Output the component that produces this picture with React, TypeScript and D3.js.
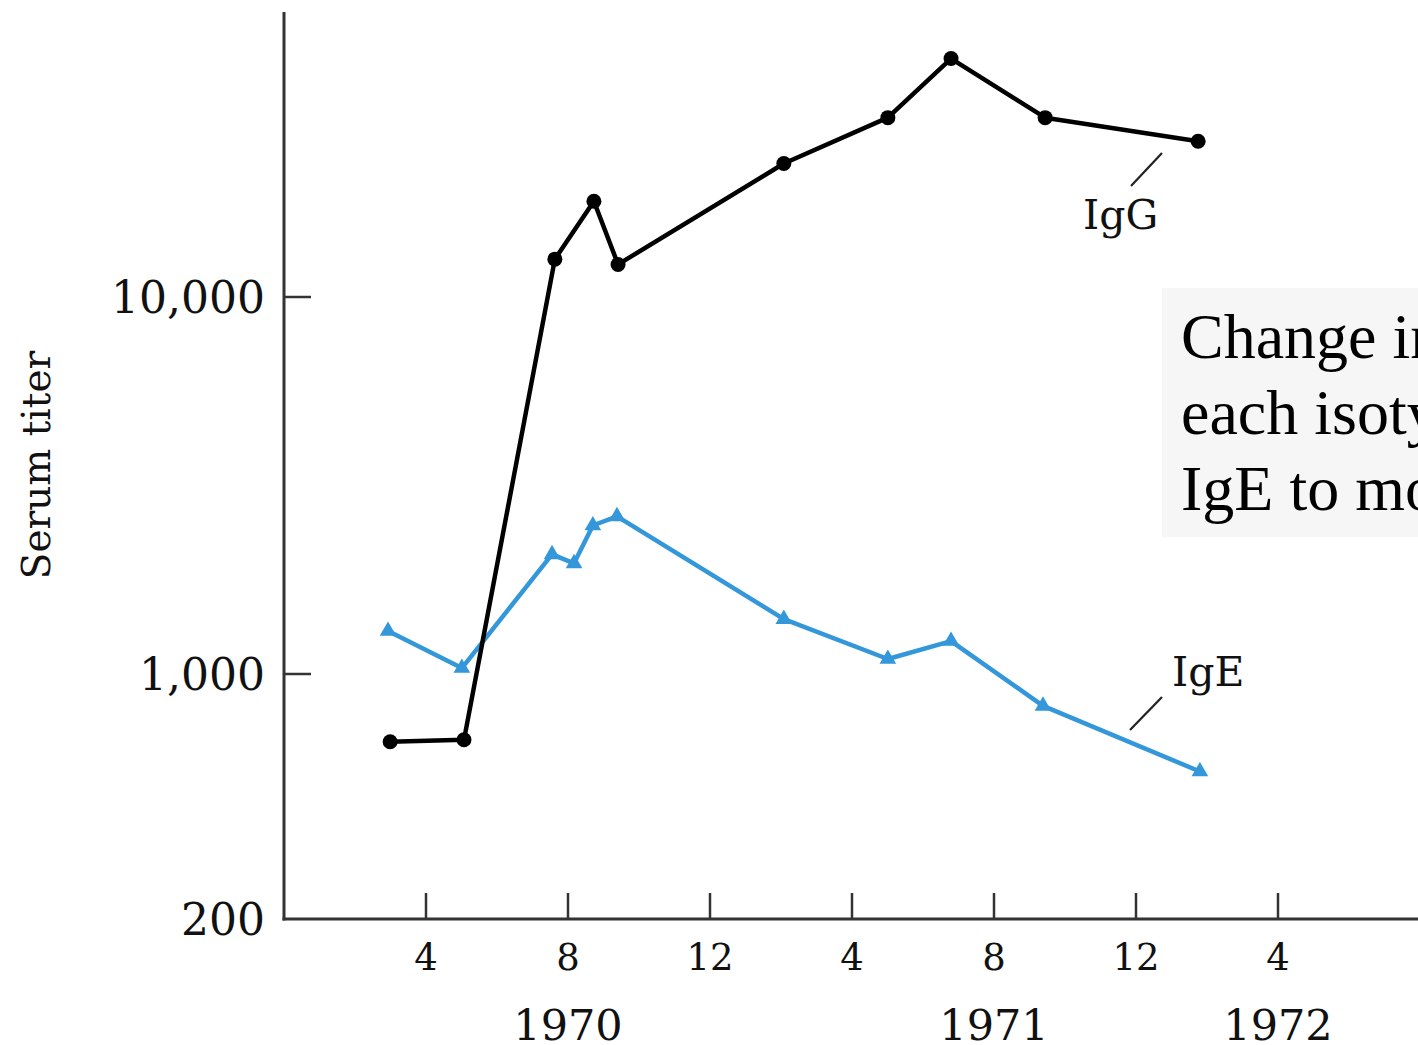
import React from "react";
import * as d3 from "d3";

const W = 1418;
const H = 1045;

// months since start of 1970 (Jan = 0)
const igGMonths = [2.99, 5.07, 7.63, 8.73, 9.41, 14.08, 17.01, 18.79, 21.44, 25.75];
const igGValues = [641, 649, 12600, 17950, 12200, 22600, 29900, 42900, 29900, 25900];

const igEMonths = [2.93, 5.01, 7.55, 8.17, 8.7, 9.38, 14.08, 17.01, 18.79, 21.38, 25.8];
const igEValues = [1300, 1037, 2077, 1966, 2477, 2618, 1398, 1096, 1223, 811, 527];

const xTickMonths = [4, 8, 12, 16, 20, 24, 28];
const xTickLabels = ["4", "8", "12", "4", "8", "12", "4"];
const yearMonths = [8, 20, 28];
const yearLabels = ["1970", "1971", "1972"];

const yTickValues = [200, 1000, 10000];
const yTickLabels = ["200", "1,000", "10,000"];

const noteLines = ["Change in serum titers of", "each isotype, from IgG and", "IgE to more recent samples"];

const AXIS_X = 284;
const AXIS_Y = 919;

export default function App() {
  const x = d3.scaleLinear().domain([0, 32]).range([AXIS_X, AXIS_X + 32 * 35.5]);
  const y = d3.scaleLog().domain([200, 1000, 10000]).range([AXIS_Y, 674, 297]);

  const igG = igGMonths.map((m, i) => [m, igGValues[i]] as [number, number]);
  const igE = igEMonths.map((m, i) => [m, igEValues[i]] as [number, number]);

  const line = d3
    .line<[number, number]>()
    .x((d) => x(d[0]))
    .y((d) => y(d[1]));

  const tri = d3.symbol().type(d3.symbolTriangle).size(120)();

  const blue = "#3397da";
  const tickFont = "DejaVu Serif";

  return (
    <svg
      width={W}
      height={H}
      style={{ position: "absolute", left: 0, top: 0, background: "#fff" }}
    >
      <defs>
        <clipPath id="noteClip">
          <rect x={1162} y={288} width={W - 1162} height={249} />
        </clipPath>
      </defs>
      {/* annotation box */}
      <rect x={1162} y={288} width={W - 1162} height={249} fill="#f6f6f6" />
      <g clipPath="url(#noteClip)">
        {noteLines.map((t, i) => (
          <text
            key={t}
            x={1181}
            y={358 + i * 76}
            fontFamily="'Liberation Serif', 'Times New Roman', serif"
            fontSize={64}
            fill="#000"
          >
            {t}
          </text>
        ))}
      </g>

      {/* axes */}
      <line x1={AXIS_X} x2={AXIS_X} y1={12} y2={AXIS_Y + 1.5} stroke="#333" strokeWidth={3} />
      <line x1={AXIS_X - 1.5} x2={W} y1={AXIS_Y} y2={AXIS_Y} stroke="#333" strokeWidth={3} />

      {xTickMonths.map((m, i) => (
        <g key={"xt" + i}>
          <line x1={x(m)} x2={x(m)} y1={AXIS_Y} y2={AXIS_Y - 26} stroke="#333" strokeWidth={2.5} />
          <text
            x={x(m)}
            y={970}
            textAnchor="middle"
            fontFamily={tickFont}
            fontSize={37}
            fill="#111"
          >
            {xTickLabels[i]}
          </text>
        </g>
      ))}
      {yearMonths.map((m, i) => (
        <text
          key={"yr" + i}
          x={x(m)}
          y={1040}
          textAnchor="middle"
          fontFamily={tickFont}
          fontSize={43}
          fill="#111"
        >
          {yearLabels[i]}
        </text>
      ))}

      {yTickValues.map((v, i) => (
        <g key={"yt" + i}>
          {v !== 200 && (
            <line x1={AXIS_X} x2={AXIS_X + 27} y1={y(v)} y2={y(v)} stroke="#333" strokeWidth={2.5} />
          )}
          <text
            x={265}
            y={y(v) + 16}
            textAnchor="end"
            fontFamily={tickFont}
            fontSize={44}
            fill="#111"
          >
            {yTickLabels[i]}
          </text>
        </g>
      ))}

      <text
        transform={`translate(50,465) rotate(-90)`}
        textAnchor="middle"
        fontFamily={tickFont}
        fontSize={39}
        fill="#111"
      >
        Serum titer
      </text>

      {/* IgE series */}
      <path d={line(igE) || ""} fill="none" stroke={blue} strokeWidth={4.5} strokeLinejoin="round" />
      {igE.map((d, i) => (
        <path key={"e" + i} d={tri || ""} transform={`translate(${x(d[0])},${y(d[1])})`} fill={blue} />
      ))}

      {/* IgG series */}
      <path d={line(igG) || ""} fill="none" stroke="#000" strokeWidth={4.5} strokeLinejoin="round" />
      {igG.map((d, i) => (
        <circle key={"g" + i} cx={x(d[0])} cy={y(d[1])} r={7.5} fill="#000" />
      ))}

      {/* labels */}
      <line x1={1131} y1={186} x2={1162} y2={153} stroke="#222" strokeWidth={2.2} />
      <text x={1083} y={229} fontFamily={tickFont} fontSize={41} fill="#111">
        IgG
      </text>
      <line x1={1130} y1={730} x2={1162} y2={697} stroke="#222" strokeWidth={2.2} />
      <text x={1172} y={686} fontFamily={tickFont} fontSize={41} fill="#111">
        IgE
      </text>
    </svg>
  );
}
